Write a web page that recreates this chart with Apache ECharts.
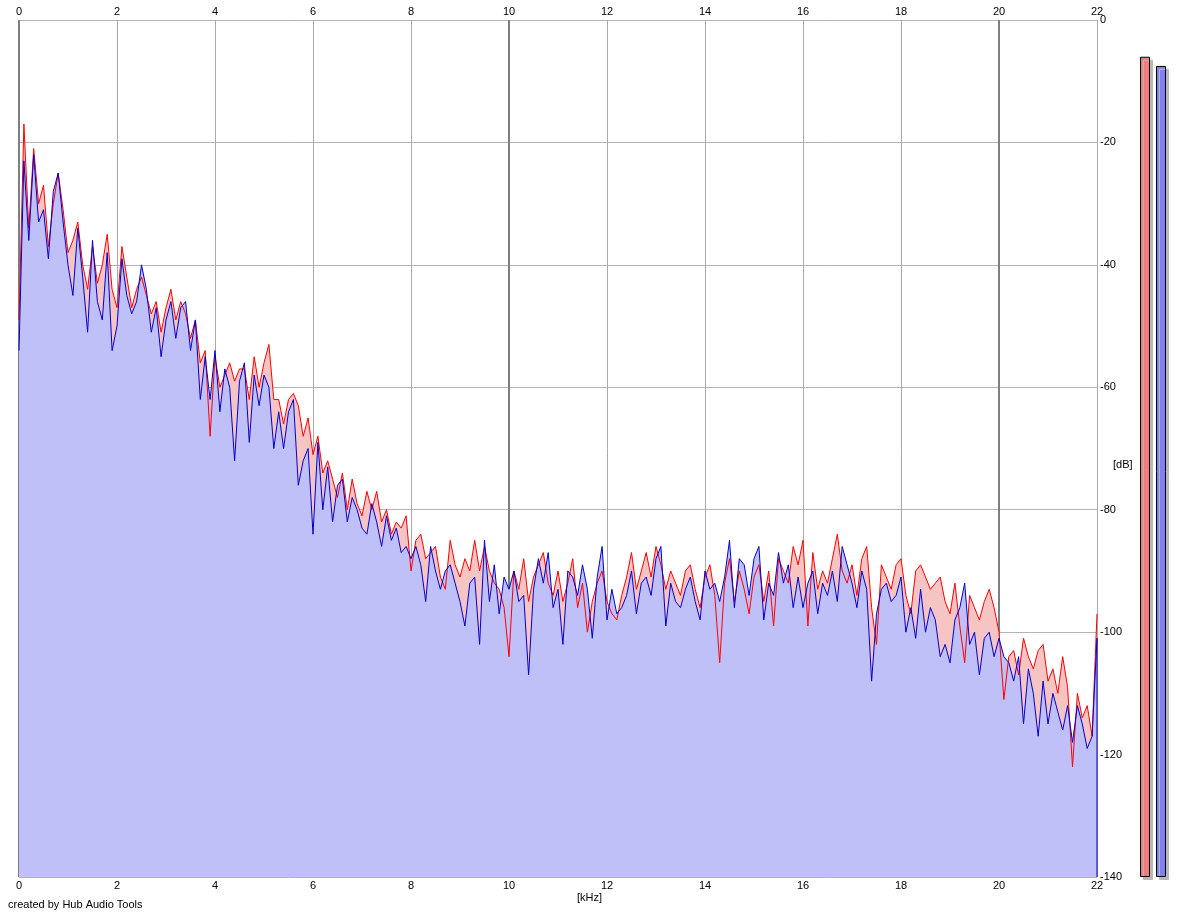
<!DOCTYPE html>
<html>
<head>
<meta charset="utf-8">
<script src="https://cdn.jsdelivr.net/npm/echarts@6/dist/echarts.min.js"></script>
<style>
  html, body { margin: 0; padding: 0; background: #fff; }
  #main { width: 1180px; height: 917px; }
</style>
</head>
<body>
<div id="main"></div>
<script>
// spectrum, one value every 0.1 kHz from 0 to 22 kHz
var stepKHz = 0.1;

// left channel (red), dB
var leftDb = [
  -49, -17, -34, -21, -30, -27, -37, -30, -25, -31,
  -38, -36, -33, -40, -44, -37, -43, -40, -35, -44,
  -47, -37, -42, -47, -44, -42, -45, -48, -46, -51,
  -47, -44, -49, -46, -48, -52, -49, -56, -54, -68,
  -55, -60, -58, -56, -59, -57, -57, -62, -55, -60,
  -56, -53, -62, -62, -66, -62, -61, -63, -68, -65,
  -71, -68, -74, -72, -75, -78, -74, -80, -75, -79,
  -81, -77, -80, -77, -82, -80, -84, -82, -83, -81,
  -90, -85, -84, -88, -87, -86, -91, -93, -85, -89,
  -91, -88, -90, -85, -90, -86, -90, -92, -93, -96,
  -104, -90, -93, -88, -95, -91, -89, -87, -92, -94,
  -90, -95, -92, -88, -96, -92, -100, -95, -92, -90,
  -95, -97, -98, -94, -91, -87, -93, -90, -87, -91,
  -86, -89, -93, -90, -92, -94, -90, -89, -93, -96,
  -91, -89, -94, -105, -92, -88, -95, -90, -93, -97,
  -91, -89, -95, -90, -99, -88, -90, -92, -86, -89,
  -85, -99, -87, -93, -90, -92, -88, -84, -90, -92,
  -89, -94, -88, -86, -96, -102, -89, -91, -93, -89,
  -88, -94, -97, -90, -89, -91, -93, -92, -91, -95,
  -97, -92, -99, -105, -94, -96, -98, -95, -93, -96,
  -100, -111, -104, -103, -107, -101, -104, -106, -103, -102,
  -108, -106, -110, -104, -109, -122, -110, -114, -112, -117,
  -97
];

// right channel (blue), dB
var rightDb = [
  -54, -23, -36, -22, -33, -31, -39, -28, -25, -33,
  -40, -45, -34, -42, -51, -36, -46, -49, -38, -54,
  -50, -39, -45, -48, -46, -40, -44, -51, -47, -55,
  -49, -46, -52, -47, -46, -54, -49, -62, -55, -62,
  -54, -64, -57, -60, -72, -59, -56, -69, -58, -63,
  -58, -60, -70, -64, -70, -64, -62, -76, -72, -70,
  -84, -69, -80, -73, -82, -76, -75, -82, -78, -80,
  -83, -84, -79, -82, -86, -81, -85, -83, -87, -86,
  -88, -86, -89, -95, -86, -90, -93, -90, -89, -92,
  -95, -99, -92, -91, -102, -85, -95, -89, -97, -91,
  -93, -90, -95, -94, -107, -93, -88, -92, -87, -96,
  -93, -102, -90, -91, -94, -89, -93, -101, -91, -86,
  -98, -93, -97, -96, -94, -90, -97, -92, -91, -94,
  -88, -86, -99, -92, -95, -96, -93, -91, -95, -98,
  -90, -93, -92, -95, -91, -85, -96, -88, -89, -94,
  -88, -86, -98, -92, -94, -87, -92, -89, -96, -91,
  -96, -92, -90, -97, -92, -94, -90, -95, -86, -89,
  -92, -96, -90, -93, -108, -97, -93, -92, -95, -94,
  -91, -100, -96, -101, -93, -100, -96, -98, -104, -102,
  -105, -98, -96, -92, -102, -100, -107, -101, -100, -104,
  -101, -104, -105, -108, -104, -115, -106, -110, -117, -108,
  -115, -110, -113, -116, -112, -118, -112, -115, -119, -117,
  -101
];

// peak level meters on the right (L, R), dB
var meterLabels = ['L', 'R'];
var meterDb = [-6, -7.5];

var xMin = 0, xMax = 22, xStep = 2;
var yMin = -140, yMax = 0, yStep = 20;

function toPairs(arr) {
  var out = [];
  for (var i = 0; i < arr.length; i++) {
    out.push([+(i * stepKHz).toFixed(1), arr[i]]);
  }
  return out;
}

var leftData = toPairs(leftDb);
var rightData = toPairs(rightDb);
// the right channel trace drops to the floor at the last bin
rightData.push([xMax, yMin]);

var font = 'Liberation Sans, Arial, sans-serif';
var labelStyle = { color: '#000', fontSize: 11, fontFamily: font };

var chart = echarts.init(document.getElementById('main'));

var option = {
  animation: false,
  backgroundColor: '#fff',
  graphic: [
    {
      type: 'text', left: 8, top: 899,
      style: { text: 'created by Hub Audio Tools', fill: '#000', font: '11px ' + font }
    },
    {
      type: 'text', left: 577, top: 892,
      style: { text: '[kHz]', fill: '#000', font: '11px ' + font }
    },
    {
      type: 'text', left: 1113, top: 459,
      style: { text: '[dB]', fill: '#000', font: '11px ' + font }
    }
  ],
  grid: [
    { left: 19, right: 83, top: 20, bottom: 40 },
    { left: 1137, width: 32, top: 20, bottom: 40 }
  ],
  xAxis: [
    {
      type: 'value', gridIndex: 0, position: 'bottom',
      min: xMin, max: xMax, interval: xStep,
      axisLine: { show: false },
      axisTick: { show: false },
      axisLabel: Object.assign({ margin: 3 }, labelStyle),
      splitLine: { show: true, lineStyle: { color: '#a9a9a9', width: 1 } }
    },
    {
      type: 'value', gridIndex: 0, position: 'top',
      min: xMin, max: xMax, interval: xStep,
      axisLine: { show: false },
      axisTick: { show: false },
      axisLabel: Object.assign({ margin: 3 }, labelStyle),
      splitLine: { show: false }
    },
    {
      // darker lines every 10 kHz
      type: 'value', gridIndex: 0, position: 'bottom',
      min: xMin, max: xMax, interval: 10,
      axisLine: { show: false },
      axisTick: { show: false },
      axisLabel: { show: false },
      splitLine: { show: true, showMaxLine: false, lineStyle: { color: '#7f7f7f', width: 2 } }
    },
    {
      type: 'category', gridIndex: 1, data: meterLabels, show: false
    }
  ],
  yAxis: [
    {
      type: 'value', gridIndex: 0, position: 'right',
      min: yMin, max: yMax, interval: yStep,
      axisLine: { show: false },
      axisTick: { show: false },
      axisLabel: Object.assign({ margin: 3 }, labelStyle),
      splitLine: { show: true, lineStyle: { color: '#b4b4b4', width: 1 } }
    },
    {
      type: 'value', gridIndex: 1, min: 0, max: yMax - yMin, show: false
    }
  ],
  series: [
    {
      name: 'L fill', type: 'line', xAxisIndex: 0, yAxisIndex: 0,
      data: leftData, showSymbol: false, symbol: 'none', z: 2,
      lineStyle: { width: 0, opacity: 0 },
      areaStyle: { color: '#f7c4c4', opacity: 1, origin: 'start' }
    },
    {
      name: 'R fill', type: 'line', xAxisIndex: 0, yAxisIndex: 0,
      data: rightData, showSymbol: false, symbol: 'none', z: 3,
      lineStyle: { width: 0, opacity: 0 },
      areaStyle: { color: '#c0c0f8', opacity: 1, origin: 'start' }
    },
    {
      name: 'L', type: 'line', xAxisIndex: 0, yAxisIndex: 0,
      data: leftData, showSymbol: false, symbol: 'none', z: 4,
      lineStyle: { color: '#ff0000', width: 1 }
    },
    {
      name: 'R', type: 'line', xAxisIndex: 0, yAxisIndex: 0,
      data: rightData, showSymbol: false, symbol: 'none', z: 5,
      lineStyle: { color: '#0000cc', width: 1 }
    },
    {
      name: 'meters', type: 'bar', xAxisIndex: 3, yAxisIndex: 1,
      barWidth: 10,
      data: meterDb.map(function (v, i) {
        return {
          value: v - yMin,
          itemStyle: { color: i === 0 ? '#f07c7c' : '#8080f0' }
        };
      }),
      itemStyle: {
        borderColor: '#000', borderWidth: 1,
        shadowColor: '#b8b8b8', shadowBlur: 0, shadowOffsetX: 3, shadowOffsetY: 3
      }
    }
  ]
};

chart.setOption(option);
</script>
</body>
</html>
